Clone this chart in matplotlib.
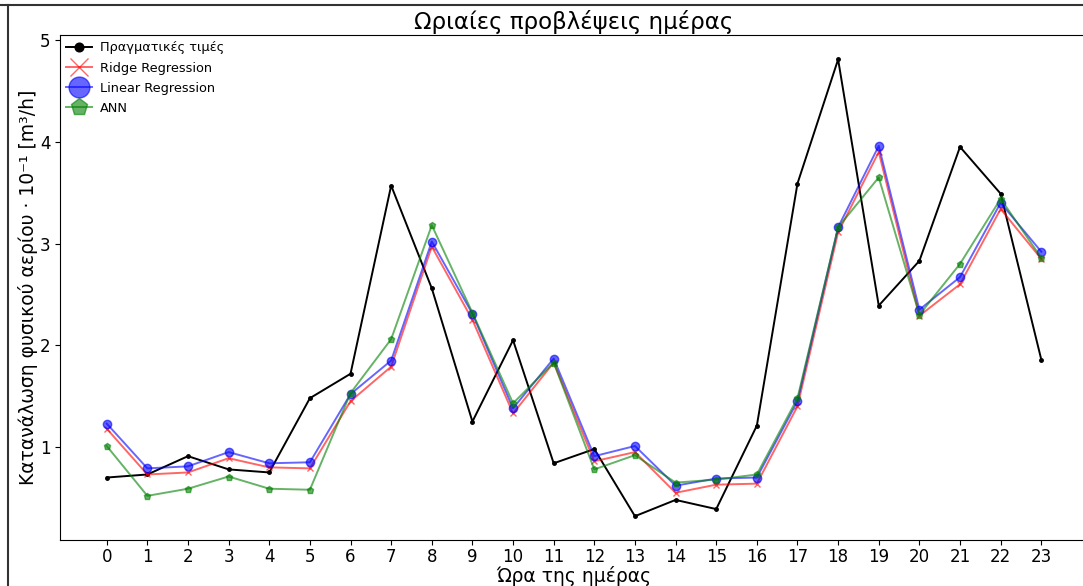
import matplotlib.pyplot as plt
from matplotlib.lines import Line2D
import numpy as np

hours = list(range(24))

actual = [0.70, 0.73, 0.91, 0.78, 0.75, 1.48, 1.72, 3.57, 2.56, 1.25, 2.05, 0.84,
          0.98, 0.32, 0.48, 0.39, 1.21, 3.59, 4.81, 2.39, 2.83, 3.95, 3.49, 1.86]
ridge = [1.18, 0.73, 0.75, 0.89, 0.80, 0.79, 1.45, 1.79, 2.97, 2.25, 1.33, 1.83,
         0.86, 0.95, 0.55, 0.63, 0.64, 1.40, 3.11, 3.90, 2.29, 2.60, 3.34, 2.85]
linear = [1.23, 0.79, 0.81, 0.95, 0.84, 0.85, 1.52, 1.85, 3.02, 2.31, 1.38, 1.87,
          0.91, 1.01, 0.62, 0.69, 0.70, 1.45, 3.16, 3.96, 2.35, 2.67, 3.40, 2.92]
ann = [1.01, 0.52, 0.59, 0.71, 0.59, 0.58, 1.53, 2.06, 3.18, 2.32, 1.43, 1.83,
       0.78, 0.92, 0.65, 0.68, 0.73, 1.48, 3.16, 3.65, 2.30, 2.80, 3.44, 2.86]

fig = plt.figure(figsize=(10.83, 5.86), dpi=100)
ax = fig.add_axes([60/1083, 46/586, 1028/1083, 505/586])

ax.plot(hours, actual, 'k.-', markersize=5, linewidth=1.4, label='Πραγματικές τιμές')
ax.plot(hours, ridge, color='red', marker='x', markersize=5, linewidth=1.4, alpha=0.6,
        label='Ridge Regression')
ax.plot(hours, linear, color='blue', marker='o', markersize=6, linewidth=1.4, alpha=0.6,
        label='Linear Regression')
ax.plot(hours, ann, color='green', marker='p', markersize=5, linewidth=1.4, alpha=0.6,
        label='ANN')

ax.set_xticks(hours)
ax.set_yticks([1, 2, 3, 4, 5])
ax.set_xlim(-1.15, 24.15)
ax.set_ylim(0.086, 5.05)
ax.tick_params(labelsize=12)
ax.tick_params(axis='x', pad=2)

ax.set_title('Ωριαίες προβλέψεις ημέρας', fontsize=16.5, pad=4)
ax.set_xlabel('Ώρα της ημέρας', fontsize=13.5, labelpad=0)
ax.set_ylabel('Κατανάλωση φυσικού αερίου · 10⁻¹ [m³/h]', fontsize=13.5, labelpad=1)

ax.legend(loc='upper left', frameon=False, fontsize=9.3, markerscale=2.5,
          borderaxespad=0.1, handletextpad=0.6, labelspacing=0.55)

# outer frame lines
fig.add_artist(Line2D([0, 1], [1 - 5/586, 1 - 5/586], color='#333333', linewidth=1.5))
fig.add_artist(Line2D([8/1083, 8/1083], [0, 1 - 5/586], color='#333333', linewidth=1.5))

fig.savefig('out.png', dpi=100)
